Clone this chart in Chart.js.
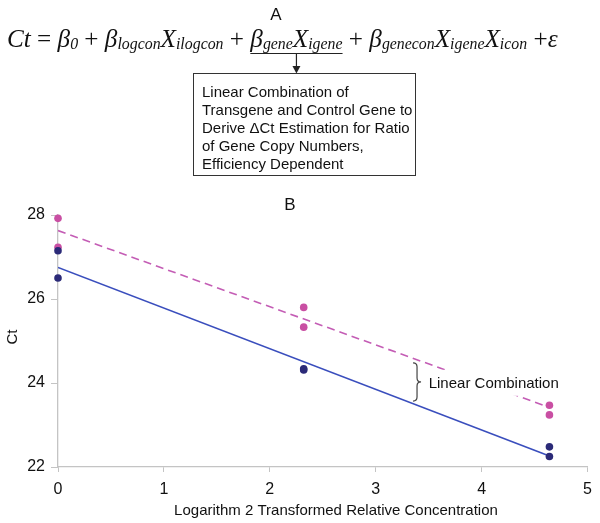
<!DOCTYPE html>
<html>
<head>
<meta charset="utf-8">
<script src="https://cdn.jsdelivr.net/npm/chart.js@4"></script>
<style>
html,body{margin:0;padding:0;background:#fff;}
#c{display:block;}
</style>
</head>
<body>
<canvas id="c" width="600" height="523"></canvas>
<script>
// ---- data ----
const xLevels = [0, 2.32, 4.64];
const transgeneCt = [[27.92, 27.23], [25.80, 25.33], [23.47, 23.24]];
const controlCt   = [[27.15, 26.50], [24.34, 24.31], [22.48, 22.25]];
const transgeneFit = [27.63, 23.42];   // at xLevels[0], xLevels[2]
const controlFit   = [26.75, 22.26];
const xTicks = [0, 1, 2, 3, 4, 5];
const yTicks = [22, 24, 26, 28];
const boxLines = ['Linear Combination of', 'Transgene and Control Gene to',
  'Derive \u0394Ct Estimation for Ratio', 'of Gene Copy Numbers,', 'Efficiency Dependent'];
const braceAnno = {x: 3.39, yTop: 24.48, yBottom: 23.57, labelX: 3.50, labelY: 23.98, text: 'Linear Combination'};

function pts(vals){ const out=[]; vals.forEach((pair,i)=>pair.forEach(v=>out.push({x:xLevels[i], y:v}))); return out; }
function fit(vals){ return [{x:xLevels[0], y:vals[0]}, {x:xLevels[2], y:vals[1]}]; }

const SANS = "'Liberation Sans', Arial, sans-serif";
const SERIF = "'Liberation Serif', 'Times New Roman', serif";

const eq = [
 ['Ct','i'], [' = ','r'], ['\u03B2','i'], ['0','s'], [' + ','r'],
 ['\u03B2','i'], ['logcon','s'], ['X','i'], ['ilogcon','s'], [' + ','r'],
 ['\u03B2','i',1], ['gene','s',1], ['X','i',1], ['igene','s',1], [' + ','r'],
 ['\u03B2','i'], ['genecon','s'], ['X','i'], ['igene','s'], ['X','i'], ['icon','s'], [' +','r'], ['\u03B5','i']
];

const drawPlugin = {
  id: 'extras',
  beforeDraw(chart){
    const c = chart.ctx; c.save(); c.fillStyle='#fff'; c.fillRect(0,0,chart.width,chart.height); c.restore();
  },
  afterDatasetsDraw(chart){
    const c = chart.ctx, xs = chart.scales.x, ys = chart.scales.y;
    c.save();
    c.font = '15px ' + SANS;
    const lx = xs.getPixelForValue(braceAnno.labelX), ly = ys.getPixelForValue(braceAnno.labelY);
    const tw = c.measureText(braceAnno.text).width;
    c.fillStyle = '#fff';
    c.fillRect(lx - 2, ly - 14, tw + 6, 26);
    c.fillStyle = '#111'; c.textBaseline = 'middle'; c.textAlign = 'left';
    c.fillText(braceAnno.text, lx, ly);
    const bx = xs.getPixelForValue(braceAnno.x), bt = ys.getPixelForValue(braceAnno.yTop), bb = ys.getPixelForValue(braceAnno.yBottom);
    const bm = (bt + bb) / 2, w = 4;
    c.strokeStyle = '#444'; c.lineWidth = 1.2;
    c.beginPath();
    c.moveTo(bx - w, bt);
    c.quadraticCurveTo(bx, bt, bx, bt + 4);
    c.lineTo(bx, bm - 4);
    c.quadraticCurveTo(bx, bm, bx + w, bm);
    c.quadraticCurveTo(bx, bm, bx, bm + 4);
    c.lineTo(bx, bb - 4);
    c.quadraticCurveTo(bx, bb, bx - w, bb);
    c.stroke();
    c.restore();
  },
  afterDraw(chart){
    const c = chart.ctx;
    c.save();
    c.fillStyle = '#111'; c.textBaseline = 'alphabetic';
    const base = 27, sub = 17;
    const fontOf = s => s === 'r' ? base + 'px ' + SERIF : s === 'i' ? 'italic ' + base + 'px ' + SERIF : 'italic ' + sub + 'px ' + SERIF;
    let total = 0;
    eq.forEach(seg => { c.font = fontOf(seg[1]); total += c.measureText(seg[0]).width; });
    const k = 551 / total;
    let x = 7; const y0 = 47;
    let uStart = null, uEnd = null;
    eq.forEach(seg => {
      const s = seg[1];
      const fs = (s === 's' ? sub : base) * k;
      c.font = (s === 'r' ? '' : 'italic ') + fs + 'px ' + SERIF;
      const w = c.measureText(seg[0]).width;
      c.fillText(seg[0], x, s === 's' ? y0 + 2 : y0);
      if (seg[2]) { if (uStart === null) uStart = x; uEnd = x + w; }
      x += w;
    });
    c.strokeStyle = '#222'; c.lineWidth = 1.2;
    c.beginPath(); c.moveTo(uStart, 53.5); c.lineTo(uEnd, 53.5); c.stroke();
    const ax = (uStart + uEnd) / 2;
    c.beginPath(); c.moveTo(ax, 53.5); c.lineTo(ax, 67); c.stroke();
    c.fillStyle = '#222';
    c.beginPath(); c.moveTo(ax - 4, 66); c.lineTo(ax + 4, 66); c.lineTo(ax, 73.5); c.closePath(); c.fill();
    c.fillStyle = '#111'; c.font = '17px ' + SANS; c.textAlign = 'center'; c.textBaseline = 'middle';
    c.fillText('A', 276, 15);
    c.strokeStyle = '#333'; c.lineWidth = 1;
    c.strokeRect(193.5, 73.5, 222, 102);
    c.font = '15px ' + SANS; c.textAlign = 'left';
    boxLines.forEach((t, i) => c.fillText(t, 202, 93 + i * 18));
    c.textAlign = 'center'; c.font = '17px ' + SANS;
    c.fillText('B', 290, 205);
    c.font = '15px ' + SANS;
    c.fillText('Logarithm 2 Transformed Relative Concentration', 336, 511);
    c.save(); c.translate(13, 337); c.rotate(-Math.PI / 2); c.fillText('Ct', 0, 0); c.restore();
    c.restore();
  }
};

const axisGray = '#c4c4c4';
new Chart(document.getElementById('c'), {
  type: 'scatter',
  data: {
    datasets: [
      {label: 'Control', data: pts(controlCt), backgroundColor: '#2b2a78', borderWidth: 0, pointRadius: 3.8, showLine: false, clip: false},
      {label: 'Transgene', data: pts(transgeneCt), backgroundColor: '#c94fa3', borderWidth: 0, pointRadius: 3.8, showLine: false, clip: false},
      {label: 'Transgene fit', data: fit(transgeneFit), showLine: true, borderColor: '#c45db5', borderWidth: 1.6, borderDash: [8, 5], pointRadius: 0, fill: false},
      {label: 'Control fit', data: fit(controlFit), showLine: true, borderColor: '#3a4ebd', borderWidth: 1.6, pointRadius: 0, fill: false}
    ]
  },
  options: {
    responsive: false, animation: false, devicePixelRatio: 1,
    layout: {padding: {top: 215, right: 10, left: 0, bottom: 0}},
    plugins: {legend: {display: false}, tooltip: {enabled: false}},
    scales: {
      x: {
        type: 'linear', min: 0, max: 5,
        afterBuildTicks: s => { s.ticks = xTicks.map(v => ({value: v})); },
        afterFit: s => { s.height = 56; },
        grid: {display: true, drawOnChartArea: false, drawTicks: true, tickLength: 5, color: axisGray},
        border: {display: true, color: axisGray, width: 1.3},
        ticks: {color: '#111', font: {family: SANS, size: 16}, padding: 8}
      },
      y: {
        type: 'linear', min: 22, max: 28,
        afterBuildTicks: s => { s.ticks = yTicks.map(v => ({value: v})); },
        afterFit: s => { s.width = 58; },
        grid: {display: true, drawOnChartArea: false, drawTicks: true, tickLength: 7, color: axisGray},
        border: {display: true, color: axisGray, width: 1.3},
        ticks: {color: '#111', font: {family: SANS, size: 16}, padding: 6}
      }
    }
  },
  plugins: [drawPlugin]
});
</script>
</body>
</html>
